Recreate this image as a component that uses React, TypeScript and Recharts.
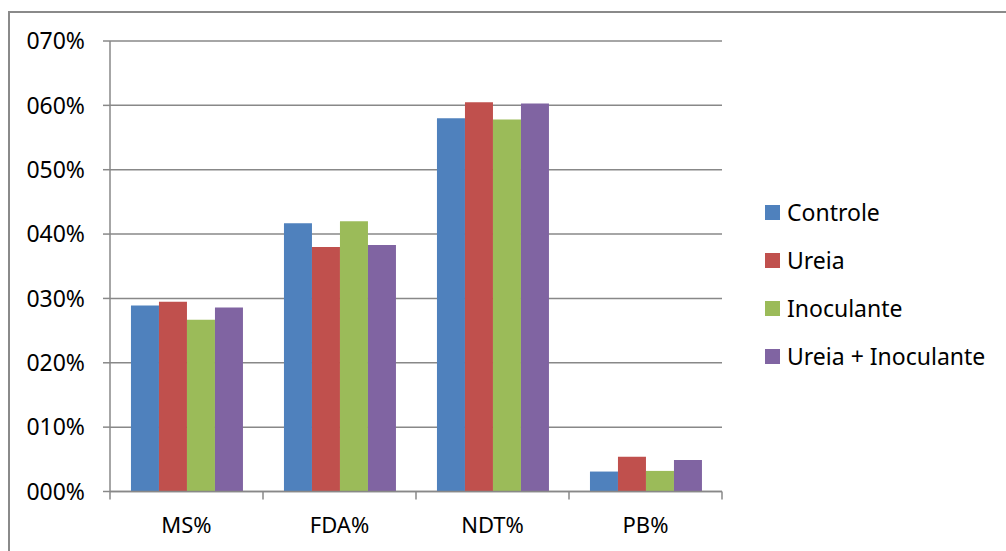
import { BarChart, Bar, XAxis, YAxis, CartesianGrid, Legend } from 'recharts'

const categories = ['MS%', 'FDA%', 'NDT%', 'PB%']
const controle = [28.9, 41.7, 58.0, 3.1]
const ureia = [29.5, 38.0, 60.5, 5.4]
const inoculante = [26.7, 42.0, 57.8, 3.2]
const ureiaInoculante = [28.6, 38.3, 60.3, 4.9]
const yTicks = [0, 10, 20, 30, 40, 50, 60, 70]

const series = [
  { key: 'controle', name: 'Controle', color: '#4F81BD' },
  { key: 'ureia', name: 'Ureia', color: '#C0504D' },
  { key: 'inoculante', name: 'Inoculante', color: '#9BBB59' },
  { key: 'ureiaInoculante', name: 'Ureia + Inoculante', color: '#8064A2' },
]

const data = categories.map((name, i) => ({
  name,
  controle: controle[i],
  ureia: ureia[i],
  inoculante: inoculante[i],
  ureiaInoculante: ureiaInoculante[i],
}))

const FONT = '"Noto Sans", sans-serif'
const AXIS = '#888888'
const TICK_MARGIN = 10
const LEGEND_W = 230

// "070%" style labels
const pctLabel = (v: number) => String(Math.round(v)).padStart(3, '0') + '%'

// category label plus tick marks on the band edges
function CategoryTick(props: any) {
  const { x, y, payload, index, visibleTicksCount } = props
  const half = payload.offset ?? 0
  const axisY = y - TICK_MARGIN
  const isLast = index === visibleTicksCount - 1
  return (
    <g>
      <line x1={x - half} x2={x - half} y1={axisY} y2={axisY + 8} stroke={AXIS} strokeWidth={1.5} />
      {isLast && (
        <line x1={x + half} x2={x + half} y1={axisY} y2={axisY + 8} stroke={AXIS} strokeWidth={1.5} />
      )}
      <text x={x} y={axisY + 41} textAnchor="middle" fontSize={22} fontFamily={FONT} fill="#000">
        {payload.value}
      </text>
    </g>
  )
}

// keep legend entries in series order
function LegendList({ payload }: any) {
  const items = [...(payload || [])].sort(
    (a: any, b: any) =>
      series.findIndex((s) => s.name === a.value) - series.findIndex((s) => s.name === b.value),
  )
  return (
    <div style={{ fontFamily: FONT, fontSize: 23, color: '#000' }}>
      {items.map((p: any) => (
        <div key={p.value} style={{ display: 'flex', alignItems: 'center', height: 48 }}>
          <span style={{ width: 15, height: 15, background: p.color, marginRight: 7 }} />
          <span>{p.value}</span>
        </div>
      ))}
    </div>
  )
}

export default function App() {
  return (
    <div
      style={{
        position: 'fixed',
        left: 8,
        top: 11,
        width: 996,
        height: 560,
        border: '2px solid #8a8a8a',
        background: '#fff',
      }}
    >
      <BarChart
        width={994}
        height={538}
        data={data}
        margin={{ top: 28, right: 282 - LEGEND_W, left: 0, bottom: 20 }}
        barCategoryGap="13.7%"
        barGap={0}
      >
        <CartesianGrid vertical={false} stroke={AXIS} strokeWidth={1.5} />
        <XAxis
          dataKey="name"
          height={39.5}
          axisLine={{ stroke: AXIS, strokeWidth: 1.5 }}
          tickLine={false}
          tickSize={0}
          tickMargin={TICK_MARGIN}
          tick={<CategoryTick />}
          interval={0}
        />
        <YAxis
          width={100}
          domain={[0, 70]}
          ticks={yTicks}
          tickFormatter={pctLabel}
          axisLine={{ stroke: AXIS, strokeWidth: 1.5 }}
          tickLine={{ stroke: AXIS, strokeWidth: 1.5 }}
          tickSize={7}
          tickMargin={18}
          tick={{ fontSize: 23, fontFamily: FONT, fill: '#000' }}
          interval={0}
        />
        <Legend
          layout="vertical"
          align="right"
          verticalAlign="middle"
          width={LEGEND_W}
          content={<LegendList />}
          wrapperStyle={{ position: 'absolute', left: 755, right: 'auto', top: 175, width: LEGEND_W }}
        />
        {series.map((s) => (
          <Bar
            key={s.key}
            dataKey={s.key}
            name={s.name}
            fill={s.color}
            isAnimationActive={false}
          />
        ))}
      </BarChart>
    </div>
  )
}
